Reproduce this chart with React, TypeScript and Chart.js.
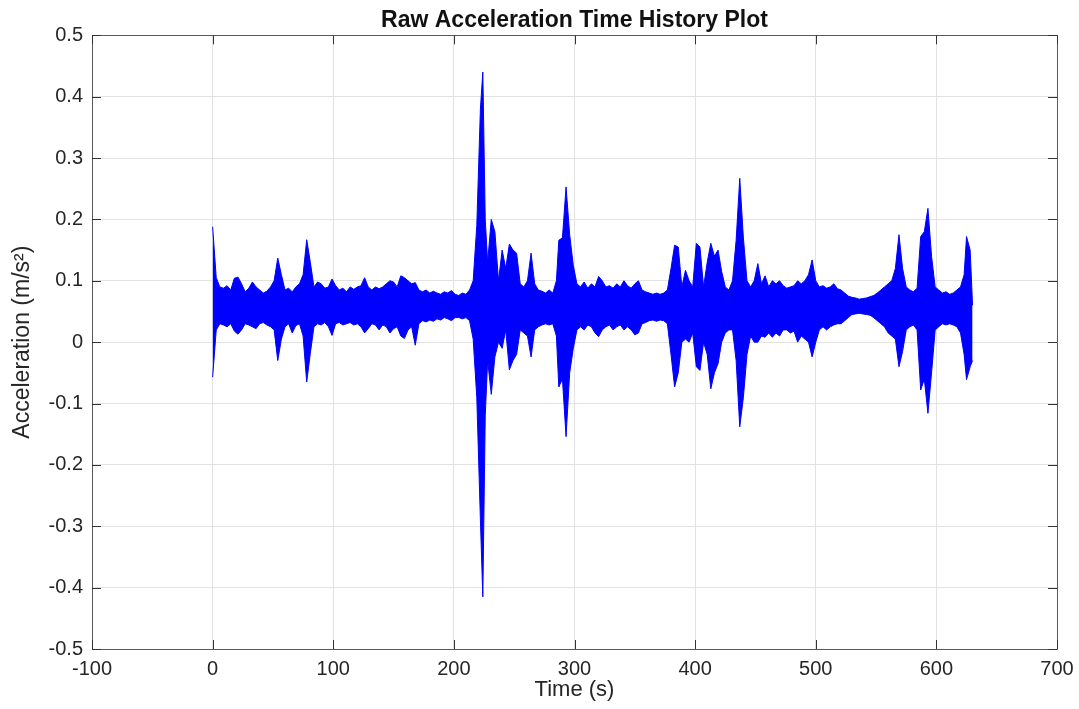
import React, { useEffect, useRef } from "react";
import { Chart, registerables } from "chart.js";

Chart.register(...registerables);

// Time (s) of each envelope sample
const timeS = [
  0, 3, 6, 9, 12, 15, 18, 21, 24, 27,
  30, 33, 36, 39, 42, 45, 48, 51, 54, 57,
  60, 63, 66, 69, 72, 75, 78, 81, 84, 87,
  90, 93, 96, 99, 102, 105, 108, 111, 114, 117,
  120, 123, 126, 129, 132, 135, 138, 141, 144, 147,
  150, 153, 156, 159, 162, 165, 168, 171, 174, 177,
  180, 183, 186, 189, 192, 195, 198, 201, 204, 207,
  210, 213, 216, 219, 222, 224, 226, 228, 231, 234,
  237, 240, 243, 246, 249, 252, 255, 258, 261, 264,
  267, 270, 273, 276, 279, 282, 285, 287, 290, 293,
  296, 299, 302, 305, 308, 311, 314, 317, 320, 323,
  326, 329, 332, 335, 338, 341, 344, 347, 350, 353,
  356, 359, 362, 365, 368, 371, 374, 377, 380, 383,
  386, 389, 392, 395, 398, 401, 404, 407, 410, 413,
  416, 419, 422, 425, 428, 431, 434, 437, 440, 443,
  446, 449, 452, 455, 458, 461, 464, 467, 470, 473,
  476, 479, 482, 485, 488, 491, 494, 497, 500, 503,
  506, 509, 512, 515, 518, 521, 524, 527, 530, 533,
  536, 539, 542, 545, 548, 551, 554, 557, 560, 563,
  566, 569, 572, 575, 578, 581, 584, 587, 590, 593,
  596, 599, 602, 605, 608, 611, 614, 617, 620, 623,
  625, 628, 630,
];

// Upper envelope of the acceleration trace (m/s^2)
const upperEnv = [
  0.188, 0.105, 0.09, 0.088, 0.092, 0.085, 0.104, 0.106, 0.095, 0.082,
  0.088, 0.098, 0.09, 0.085, 0.08, 0.083, 0.09, 0.1, 0.137, 0.11,
  0.085, 0.088, 0.082, 0.09, 0.095, 0.11, 0.167, 0.13, 0.09, 0.098,
  0.095, 0.088, 0.09, 0.103, 0.092, 0.085, 0.088, 0.082, 0.09, 0.086,
  0.09, 0.092, 0.105, 0.09, 0.085, 0.09, 0.087, 0.09, 0.095, 0.1,
  0.098, 0.09, 0.108, 0.105, 0.1, 0.095, 0.097, 0.085, 0.082, 0.085,
  0.08, 0.083, 0.08, 0.078, 0.082, 0.08, 0.084, 0.078, 0.076, 0.08,
  0.078, 0.085, 0.1, 0.19, 0.38, 0.44, 0.2, 0.13, 0.2, 0.18,
  0.1, 0.15, 0.12, 0.16, 0.15, 0.145, 0.095, 0.09, 0.1, 0.145,
  0.095, 0.085, 0.083, 0.08, 0.085, 0.08, 0.1, 0.166, 0.17, 0.253,
  0.175, 0.125, 0.095, 0.09, 0.098, 0.088, 0.095, 0.09, 0.107, 0.1,
  0.09, 0.092, 0.088, 0.095, 0.09, 0.1, 0.092, 0.088, 0.095, 0.1,
  0.085, 0.082, 0.08, 0.078, 0.08, 0.078, 0.08, 0.085, 0.12, 0.158,
  0.155, 0.09, 0.117, 0.1, 0.09, 0.161, 0.155, 0.09, 0.13, 0.161,
  0.14, 0.15, 0.115, 0.09, 0.085, 0.1, 0.166, 0.267, 0.17, 0.1,
  0.09, 0.1, 0.128, 0.095, 0.108, 0.09, 0.1, 0.095, 0.1, 0.092,
  0.088, 0.09, 0.092, 0.1, 0.095, 0.1, 0.11, 0.134, 0.1, 0.09,
  0.092, 0.088, 0.09, 0.095, 0.087, 0.085, 0.08, 0.075, 0.073, 0.072,
  0.07, 0.071, 0.072, 0.074, 0.076, 0.08, 0.085, 0.09, 0.095, 0.1,
  0.12, 0.175, 0.12, 0.09, 0.085, 0.082, 0.088, 0.172, 0.18, 0.218,
  0.14, 0.09, 0.085, 0.08, 0.082, 0.078, 0.08, 0.085, 0.09, 0.11,
  0.172, 0.15, 0.06,
];

// Lower envelope of the acceleration trace (m/s^2)
const lowerEnv = [
  -0.057, 0.02, 0.03, 0.028, 0.025, 0.03, 0.018, 0.013, 0.02, 0.03,
  0.028, 0.025, 0.022, 0.03, 0.032, 0.028, 0.025, 0.02, -0.03, 0.005,
  0.025, 0.03, 0.015, 0.027, 0.03, 0.01, -0.065, -0.018, 0.025, 0.03,
  0.028, 0.032, 0.025, 0.011, 0.03, 0.032, 0.028, 0.03, 0.032, 0.028,
  0.03, 0.025, 0.015, 0.022, 0.03, 0.028, 0.02, 0.028, 0.025, 0.015,
  0.022, 0.025, 0.01, 0.006, 0.02, 0.025, -0.005, 0.03, 0.035, 0.033,
  0.036, 0.034, 0.038, 0.036, 0.04, 0.038, 0.035, 0.04, 0.04, 0.038,
  0.04, 0.035, 0.005, -0.09, -0.29, -0.415, -0.12, -0.03, -0.085, -0.024,
  0.0, -0.01, 0.02, -0.045, -0.03, -0.02, 0.02, 0.015, 0.01, -0.024,
  0.02, 0.025, 0.028, 0.03, 0.028, 0.03, 0.01, -0.073, -0.06, -0.154,
  -0.05, -0.01, 0.02, 0.025, 0.02, 0.028, 0.025, 0.015, 0.009, 0.02,
  0.025, 0.028, 0.02, 0.025, 0.028, 0.02, 0.025, 0.02, 0.012, 0.015,
  0.03, 0.032, 0.035, 0.036, 0.034, 0.036, 0.035, 0.03, -0.02, -0.073,
  -0.05, 0.0, 0.005, 0.0, 0.015, -0.04, -0.046, 0.0, -0.02, -0.076,
  -0.05, -0.035, 0.0, 0.015, 0.02, 0.02, -0.03, -0.138, -0.09, -0.02,
  0.01, 0.0, 0.0, 0.01, 0.008, 0.015, 0.008, 0.015, 0.01, 0.02,
  0.02, 0.015, 0.018, 0.0, 0.01, 0.005, 0.0, -0.024, 0.0, 0.02,
  0.025, 0.02, 0.025, 0.028, 0.03, 0.03, 0.035, 0.04, 0.045, 0.046,
  0.047, 0.046, 0.045, 0.044, 0.04, 0.035, 0.03, 0.025, 0.015, 0.01,
  0.005, -0.04, -0.015, 0.02, 0.025, 0.028, 0.02, -0.078, -0.06, -0.116,
  -0.05, 0.02, 0.025, 0.03, 0.028, 0.03, 0.028, 0.025, 0.015, -0.02,
  -0.061, -0.04, -0.03,
];

const xTickValues = [-100, 0, 100, 200, 300, 400, 500, 600, 700];
const yTickValues = [-0.5, -0.4, -0.3, -0.2, -0.1, 0, 0.1, 0.2, 0.3, 0.4, 0.5];

const chartTitle = "Raw Acceleration Time History Plot";
const xTitle = "Time (s)";
const yTitle = "Acceleration (m/s\u00B2)";

const FONT = '"Liberation Sans", Arial, Helvetica, sans-serif';

const boxPlugin = {
  id: "matlabBox",
  afterDatasetsDraw(chart: any) {
    const { ctx, chartArea, scales } = chart;
    const { left, right, top, bottom } = chartArea;
    const al = (v: number) => Math.round(v) + 0.5;
    ctx.save();
    ctx.strokeStyle = "#5a5a5a";
    ctx.lineWidth = 1;
    ctx.beginPath();
    ctx.rect(al(left), al(top), Math.round(right) - Math.round(left), Math.round(bottom) - Math.round(top));
    ctx.stroke();
    const tl = 9;
    ctx.strokeStyle = "#333333";
    ctx.beginPath();
    for (const t of scales.x.ticks) {
      const px = al(scales.x.getPixelForValue(t.value));
      ctx.moveTo(px, bottom);
      ctx.lineTo(px, bottom - tl);
      ctx.moveTo(px, top);
      ctx.lineTo(px, top + tl);
    }
    for (const t of scales.y.ticks) {
      const py = al(scales.y.getPixelForValue(t.value));
      ctx.moveTo(left, py);
      ctx.lineTo(left + tl, py);
      ctx.moveTo(right, py);
      ctx.lineTo(right - tl, py);
    }
    ctx.stroke();
    ctx.restore();
  },
};

export default function App() {
  const canvasRef = useRef<HTMLCanvasElement | null>(null);

  useEffect(() => {
    const canvas = canvasRef.current;
    if (!canvas) return;
    const upperPts = timeS.map((t, i) => ({ x: t, y: upperEnv[i] }));
    const lowerPts = timeS.map((t, i) => ({ x: t, y: lowerEnv[i] }));
    const chart = new Chart(canvas, {
      type: "line",
      data: {
        datasets: [
          {
            label: "upper",
            data: upperPts,
            borderColor: "#0000ff",
            borderWidth: 1,
            pointRadius: 0,
            tension: 0,
            fill: false,
          },
          {
            label: "lower",
            data: lowerPts,
            borderColor: "#0000ff",
            backgroundColor: "#0000ff",
            borderWidth: 1,
            pointRadius: 0,
            tension: 0,
            fill: "-1",
          },
        ],
      },
      options: {
        responsive: false,
        animation: false,
        devicePixelRatio: 1,
        layout: { padding: { left: 0, right: 22, top: 0, bottom: 0 } },
        plugins: {
          legend: { display: false },
          tooltip: { enabled: false },
          title: {
            display: true,
            fullSize: false,
            text: chartTitle,
            color: "#111111",
            font: { family: FONT, size: 23, weight: "bold", lineHeight: 1.1 },
            padding: { top: 8, bottom: 2 },
          },
        },
        scales: {
          x: {
            type: "linear",
            min: -100,
            max: 700,
            afterBuildTicks: (s: any) => {
              s.ticks = xTickValues.map((v) => ({ value: v }));
            },
            afterFit: (s: any) => {
              s.height = 60;
              s.paddingRight = 0;
              s.paddingLeft = 0;
            },
            grid: { color: "#e2e2e2", lineWidth: 1, drawTicks: false },
            border: { display: false },
            ticks: {
              padding: 8,
              color: "#262626",
              font: { family: FONT, size: 20 },
              maxRotation: 0,
              callback: (v: any) => String(v),
            },
            title: {
              display: true,
              text: xTitle,
              color: "#262626",
              font: { family: FONT, size: 22 },
              padding: { top: 0, bottom: 6 },
            },
          },
          y: {
            type: "linear",
            min: -0.5,
            max: 0.5,
            afterBuildTicks: (s: any) => {
              s.ticks = yTickValues.map((v) => ({ value: v }));
            },
            afterFit: (s: any) => {
              s.width = 92;
              s.paddingTop = 0;
              s.paddingBottom = 0;
            },
            grid: { color: "#e2e2e2", lineWidth: 1, drawTicks: false },
            border: { display: false },
            ticks: {
              padding: 9,
              color: "#262626",
              font: { family: FONT, size: 20 },
              callback: (v: any) => String(Number(Number(v).toFixed(1))),
            },
            title: {
              display: true,
              text: yTitle,
              color: "#262626",
              font: { family: FONT, size: 23 },
              padding: { top: 9, bottom: 0 },
            },
          },
        },
      },
      plugins: [boxPlugin],
    } as any);
    return () => chart.destroy();
  }, []);

  return (
    <div style={{ position: "fixed", left: 0, top: 0, width: 1079, height: 709, background: "#ffffff" }}>
      <canvas ref={canvasRef} width={1079} height={709} style={{ display: "block" }} />
    </div>
  );
}
